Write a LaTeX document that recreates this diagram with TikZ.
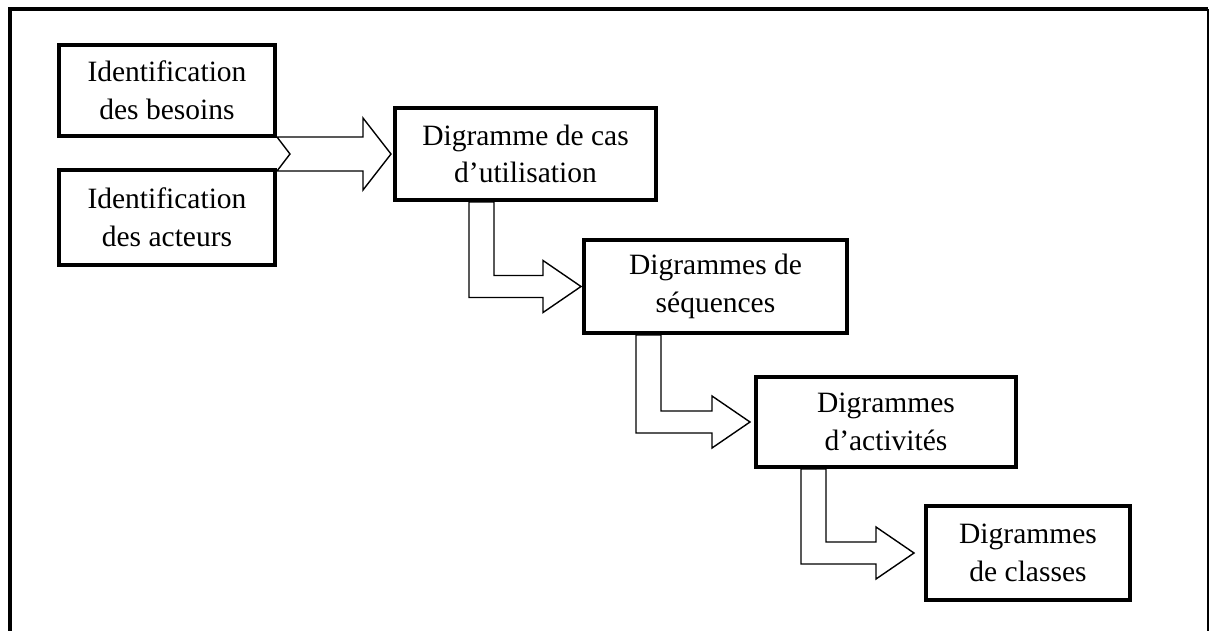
\documentclass[tikz,border=0pt]{standalone}
\usepackage{fontspec}
\setmainfont{Liberation Serif}
\usetikzlibrary{calc,backgrounds}
\tikzset{
  box/.style={draw, line width=4pt, align=center, inner sep=0pt, fill=white,
    font=\fontsize{29.5}{37.5}\selectfont},
  arrowshape/.style={draw, line width=1.4pt, fill=white, line join=miter},
  frameline/.style={line width=4pt},
  framethin/.style={line width=2pt},
}
% #1 source node, #2 target node, #3 x offset of outer stem from source south west, #4 x offset of tip
\newcommand\bentarrow[4]{%
  \coordinate (A) at ($(#1.south west)+(#3,0)$);
  \coordinate (T) at ($(#2.west)+(#4,0)$);
  \draw[arrowshape] (A) -- ($(A)+(25,0)$) -- ($(A |- T)+(25,-11)$)
    -- ($(T)+(-38,-11)$) -- ($(T)+(-38,-26)$) -- (T)
    -- ($(T)+(-38,26)$) -- ($(T)+(-38,11)$) -- ($(A |- T)+(0,11)$) -- cycle;
}
\begin{document}
\begin{tikzpicture}[x=1pt, y=-1pt]
\useasboundingbox (0,0) rectangle (1210,630);
% frame
\draw[frameline] (10,640) -- (10,9) -- (1208,9);
\draw[framethin] (1208,9) -- (1208,640);
% boxes
\node[box, minimum width=216pt, minimum height=91pt] (b1) at (167,90.5) {Identification\\des besoins};
\node[box, minimum width=216pt, minimum height=95pt] (b2) at (167,217.5) {Identification\\des acteurs};
\node[box, minimum width=261pt, minimum height=92pt] (b3) at (525.5,154) {Digramme de cas\\d’utilisation};
\node[box, minimum width=263pt, minimum height=93pt] (b4) at (715.5,286.5) {Digrammes de\\séquences};
\node[box, minimum width=260pt, minimum height=90pt] (b5) at (886,422) {Digrammes\\d’activités};
\node[box, minimum width=204pt, minimum height=94pt] (b6) at (1028,553) {Digrammes\\de classes};
% arrows
\begin{scope}[on background layer]
  \coordinate (T1) at ($(b3.west)+(-2,0)$);
  \coordinate (N1) at ($(b1.east |- T1)+(13,0)$);
  \draw[arrowshape] ($(b1.east |- T1)+(0,-17)$) -- ($(T1)+(-28,-17)$) -- ($(T1)+(-28,-36)$)
    -- (T1) -- ($(T1)+(-28,36)$) -- ($(T1)+(-28,17)$) -- ($(b1.east |- T1)+(0,17)$) -- (N1) -- cycle;
  \bentarrow{b3}{b4}{76}{-1}
  \bentarrow{b4}{b5}{54}{-4}
  \bentarrow{b5}{b6}{47}{-10}
\end{scope}
\end{tikzpicture}
\end{document}
